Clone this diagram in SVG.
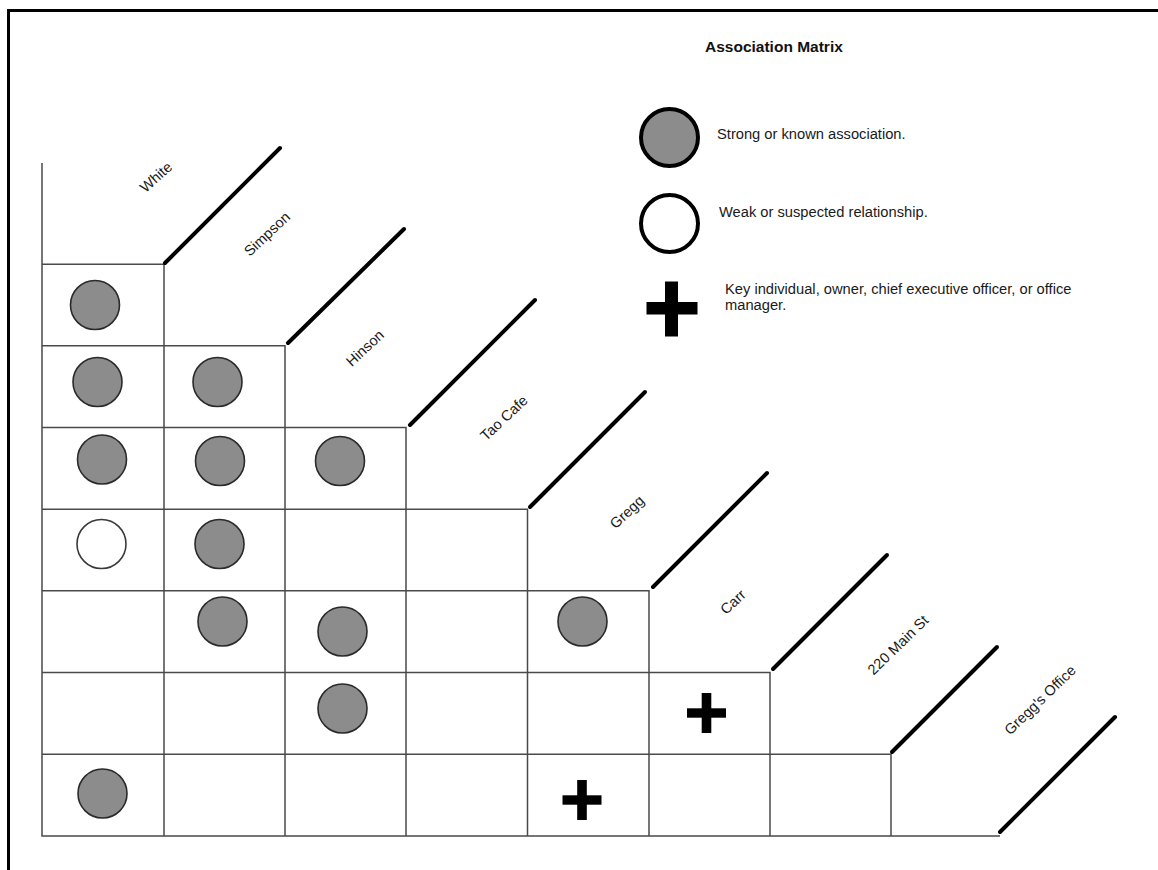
<svg xmlns="http://www.w3.org/2000/svg" width="1158" height="870" viewBox="0 0 1158 870">
<style>
.txt{font-family:"Liberation Sans",Arial,sans-serif;fill:#1a1a1a;font-size:14.7px}
.hdr{font-family:"Liberation Sans",Arial,sans-serif;fill:#1a1a1a;font-size:14.6px;text-anchor:middle}
.title{font-family:"Liberation Sans",Arial,sans-serif;font-weight:bold;font-size:15.5px;fill:#111}
.grid{stroke:#4a4a4a;stroke-width:1.5;fill:none}
.diag{stroke:#000;stroke-width:4;stroke-linecap:round}
.strong{fill:#8c8c8c;stroke:#2a2a2a;stroke-width:1.6}
.weak{fill:#fff;stroke:#3a3a3a;stroke-width:1.6}
.plus{fill:#000}
</style>
<defs>
<g id="pl"><rect x="-19.5" y="-4.7" width="39" height="9.4"/><rect x="-4.8" y="-20" width="9.6" height="40"/></g>
</defs>
<rect width="1158" height="870" fill="#fff"/>
<g id="frame"><path d="M8.5 870 V10.5 H1158" fill="none" stroke="#000" stroke-width="3"/></g>
<g id="title"><text class="title" x="705" y="52">Association Matrix</text></g>
<g id="legend">
<g id="legend-strong"><circle cx="669.5" cy="137.5" r="28.5" fill="#8c8c8c" stroke="#000" stroke-width="4"/><text class="txt" x="717" y="139">Strong or known association.</text></g>
<g id="legend-weak"><circle cx="669.5" cy="223.5" r="28.5" fill="#fff" stroke="#000" stroke-width="4"/><text class="txt" x="719" y="217">Weak or suspected relationship.</text></g>
<g id="legend-key"><rect x="646.5" y="302" width="51" height="12.5" fill="#000"/><rect x="665" y="281.5" width="13" height="55" fill="#000"/><text class="txt" x="725" y="294">Key individual, owner, chief executive officer, or office</text><text class="txt" x="725" y="310">manager.</text></g>
</g>
<g id="grid" class="grid">
<path d="M42 163 V836 H1000"/>
<path d="M42 264.3 H164 V836"/>
<path d="M42 345.8 H285 V836"/>
<path d="M42 427.5 H406 V836"/>
<path d="M42 509.2 H527.5 V836"/>
<path d="M42 590.8 H649 V836"/>
<path d="M42 672.5 H770 V836"/>
<path d="M42 754.2 H891 V836"/>
</g>
<g id="connectors">
<line class="diag" x1="165" y1="263" x2="280" y2="148"/>
<line class="diag" x1="288" y1="343" x2="404" y2="229"/>
<line class="diag" x1="410" y1="425" x2="535" y2="300"/>
<line class="diag" x1="530" y1="507" x2="645" y2="392"/>
<line class="diag" x1="653" y1="587" x2="767" y2="473"/>
<line class="diag" x1="773" y1="669" x2="887" y2="555"/>
<line class="diag" x1="892" y1="752" x2="997" y2="647"/>
<line class="diag" x1="1000" y1="832" x2="1115" y2="717"/>
</g>
<g id="headers">
<g id="h-white"><text class="hdr" transform="translate(156 177) rotate(-42)" y="5">White</text></g>
<g id="h-simpson"><text class="hdr" transform="translate(267 234) rotate(-43)" y="5">Simpson</text></g>
<g id="h-hinson"><text class="hdr" transform="translate(365 348) rotate(-43)" y="5">Hinson</text></g>
<g id="h-taocafe"><text class="hdr" transform="translate(504 418) rotate(-43)" y="5">Tao Cafe</text></g>
<g id="h-gregg"><text class="hdr" transform="translate(627 512) rotate(-43)" y="5">Gregg</text></g>
<g id="h-carr"><text class="hdr" transform="translate(733 602) rotate(-43)" y="5">Carr</text></g>
<g id="h-220main"><text class="hdr" transform="translate(898 645) rotate(-44)" y="5">220 Main St</text></g>
<g id="h-greggsoffice"><text class="hdr" transform="translate(1040 700) rotate(-44)" y="5">Gregg's Office</text></g>
</g>
<g id="marks">
<g id="m-0-0"><circle class="strong" cx="95" cy="305" r="24.5"/></g>
<g id="m-1-0"><circle class="strong" cx="97.5" cy="382" r="24.5"/></g>
<g id="m-1-1"><circle class="strong" cx="217.5" cy="382" r="24.5"/></g>
<g id="m-2-0"><circle class="strong" cx="102" cy="459.5" r="24.5"/></g>
<g id="m-2-1"><circle class="strong" cx="220" cy="461" r="24.5"/></g>
<g id="m-2-2"><circle class="strong" cx="340" cy="461" r="24.5"/></g>
<g id="m-3-0"><circle class="weak" cx="101.5" cy="544" r="24.5"/></g>
<g id="m-3-1"><circle class="strong" cx="219.5" cy="544" r="24.5"/></g>
<g id="m-4-1"><circle class="strong" cx="222.5" cy="621.5" r="24.5"/></g>
<g id="m-4-2"><circle class="strong" cx="342.5" cy="631.5" r="24.5"/></g>
<g id="m-4-4"><circle class="strong" cx="582.5" cy="621.5" r="24.5"/></g>
<g id="m-5-2"><circle class="strong" cx="342.5" cy="708.5" r="24.5"/></g>
<g id="m-5-5"><use href="#pl" class="plus" x="706.5" y="713"/></g>
<g id="m-6-0"><circle class="strong" cx="102.5" cy="793.5" r="24.5"/></g>
<g id="m-6-4"><use href="#pl" class="plus" x="582" y="800"/></g>
</g>
</svg>
